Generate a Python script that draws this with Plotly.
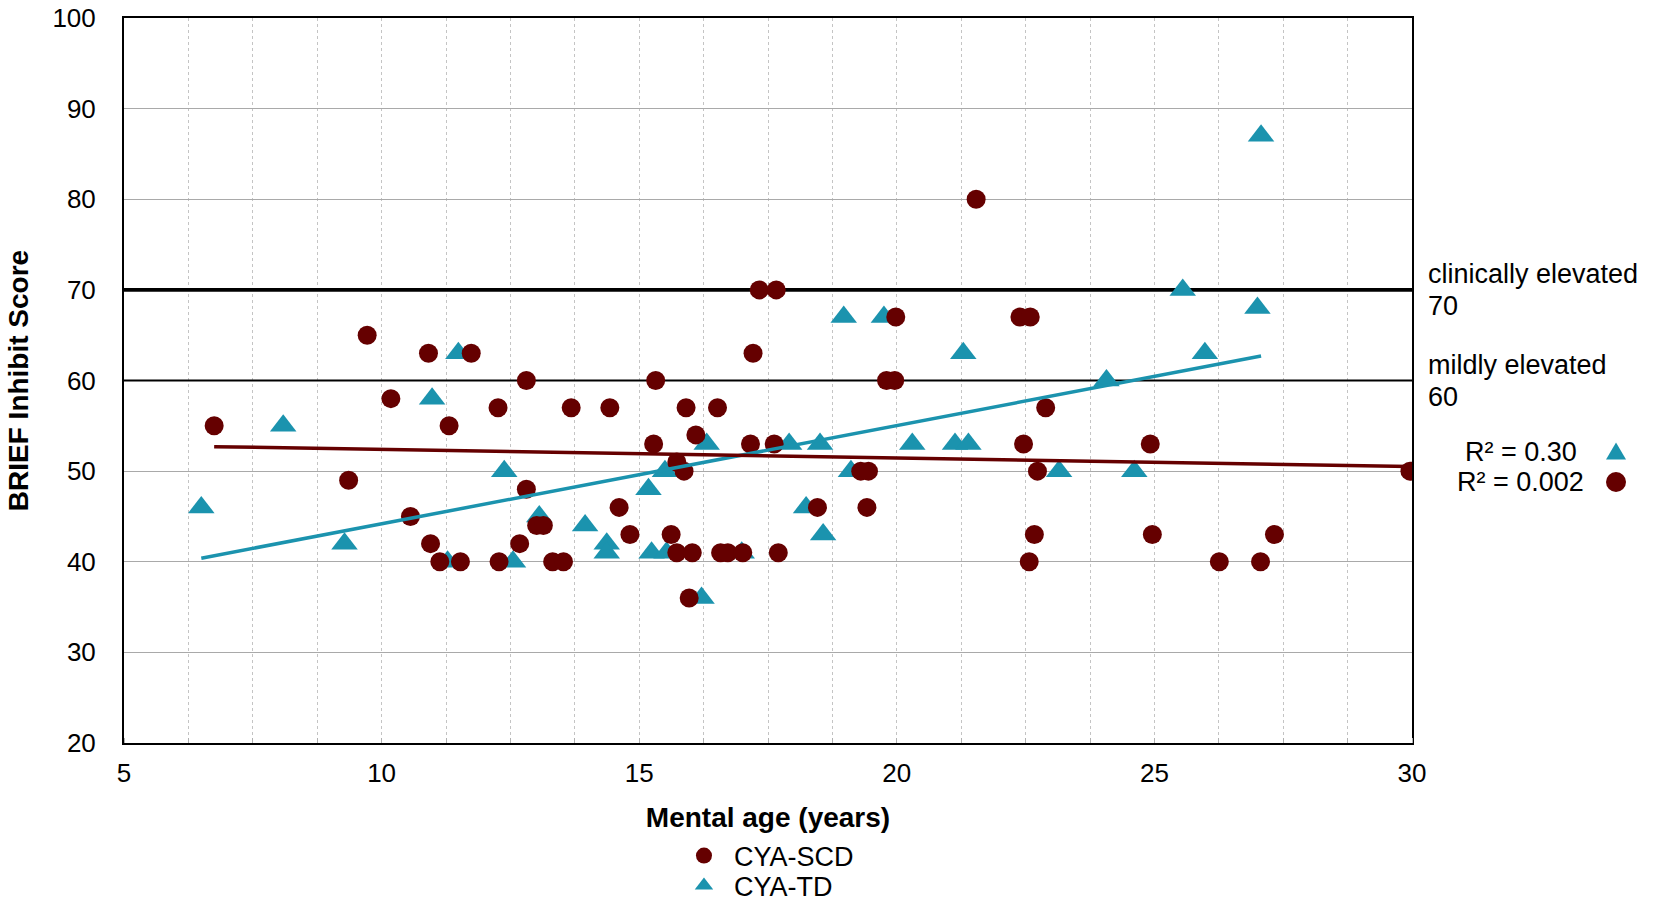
import numpy as np
import plotly.graph_objects as go

# ---- data ----
td_x = [6.50, 8.09, 9.28, 10.98, 11.28, 11.49, 12.38, 12.55, 13.06, 13.95,
        14.37, 14.37, 15.18, 15.24, 15.50, 15.53, 16.21, 16.31, 16.99, 17.91,
        18.24, 18.51, 18.57, 18.97, 19.11, 19.75, 20.30, 21.13, 21.29, 21.39,
        23.15, 24.07, 24.61, 25.55, 25.98, 27.00, 27.07]
td_y = [46, 55, 42, 58, 40, 63, 50, 40, 45, 44,
        42, 41, 48, 41, 50, 41, 36, 53, 41, 53,
        46, 53, 43, 67, 50, 67, 53, 53, 63, 53,
        50, 60, 50, 70, 63, 68, 87]

scd_x = [6.75, 9.36, 9.72, 10.18, 10.56, 10.91, 10.95, 11.13, 11.31, 11.53,
         11.74, 12.26, 12.28, 12.68, 12.81, 12.81, 13.01, 13.14, 13.32, 13.53,
         13.68, 14.43, 14.61, 14.82, 15.28, 15.32, 15.62, 15.73, 15.73, 15.87,
         15.91, 15.97, 16.03, 16.10, 16.52, 16.58, 16.72, 17.01, 17.16, 17.21,
         17.33, 17.62, 17.66, 17.70, 18.46, 19.30, 19.42, 19.45, 19.80, 19.96,
         19.98, 21.54, 22.39, 22.46, 22.57, 22.59, 22.67, 22.73, 22.89, 24.92,
         24.96, 26.26, 27.06, 27.33, 29.96]
scd_y = [55, 49, 65, 58, 45, 63, 42, 40, 55, 40,
         63, 57, 40, 42, 60, 48, 44, 44, 40, 40,
         57, 57, 46, 43, 53, 60, 43, 51, 41, 50,
         57, 36, 41, 54, 57, 41, 41, 41, 53, 63,
         70, 53, 70, 41, 46, 50, 46, 50, 60, 60,
         67, 80, 67, 53, 40, 67, 43, 50, 57, 53,
         43, 40, 40, 43, 50]

# linear trendline coefficients (slope, intercept)
td_trend = [1.084, 33.35]
scd_trend = [-0.0948, 53.34]

series_names = ["CYA-SCD", "CYA-TD"]
r2_labels = ["R² = 0.30", "R² = 0.002"]
thresholds = [70, 60]
threshold_widths = [3.8, 2.0]
threshold_labels = ["clinically elevated", "mildly elevated"]
x_range = [5, 30]
y_range = [20, 100]
x_ticks = [5, 10, 15, 20, 25, 30]
y_ticks = [20, 30, 40, 50, 60, 70, 80, 90, 100]

TEAL = "#1b93ae"
DRED = "#650000"
FONT = "Liberation Sans, Arial, sans-serif"
FS_TICK = 26
FS_TITLE = 28
FS_TEXT = 27


def trend_line(xs, coef):
    xs = np.asarray(xs, float)
    xe = np.array([xs.min(), xs.max()])
    return xe, coef[0] * xe + coef[1]


fig = go.Figure()

# threshold reference lines (drawn first, beneath the markers, above grid)
for val, w in zip(thresholds, threshold_widths):
    fig.add_trace(go.Scatter(x=x_range, y=[val, val], mode="lines",
                             showlegend=False, hoverinfo="skip",
                             line=dict(color="black", width=w)))

fig.add_trace(go.Scatter(
    x=td_x, y=td_y, mode="markers", name=series_names[1], legend="legend2",
    marker=dict(symbol="triangle-up", size=23, color=TEAL, line=dict(width=0)),
))
fig.add_trace(go.Scatter(
    x=scd_x, y=scd_y, mode="markers", name=series_names[0], legend="legend",
    marker=dict(symbol="circle", size=19, color=DRED, line=dict(width=0)),
))

tx, ty = trend_line(td_x, td_trend)
fig.add_trace(go.Scatter(x=tx, y=ty, mode="lines", showlegend=False,
                         line=dict(color=TEAL, width=3.5), hoverinfo="skip"))
sx, sy = trend_line(scd_x, scd_trend)
fig.add_trace(go.Scatter(x=sx, y=sy, mode="lines", showlegend=False,
                         line=dict(color=DRED, width=3.5), hoverinfo="skip"))

ann_font = dict(family=FONT, size=FS_TEXT, color="black")
for val, lab in zip(thresholds, threshold_labels):
    fig.add_annotation(xref="paper", yref="y", x=1.011, y=val, text=lab,
                       showarrow=False, xanchor="left", yanchor="middle",
                       yshift=16, font=ann_font)
    fig.add_annotation(xref="paper", yref="y", x=1.011, y=val, text=str(val),
                       showarrow=False, xanchor="left", yanchor="middle",
                       yshift=-16, font=ann_font)

# R² key
r2_y = [0.402, 0.360]
for lab, yy in zip(r2_labels, r2_y):
    fig.add_annotation(xref="paper", yref="paper", x=1.0846, y=yy, text=lab,
                       showarrow=False, xanchor="center", yanchor="middle",
                       font=ann_font)
# key symbols (layout decorations)
fig.add_shape(type="path", xref="paper", yref="paper",
              xsizemode="pixel", ysizemode="pixel",
              xanchor=1.1584, yanchor=r2_y[0],
              path="M -10,-8 L 10,-8 L 0,9 Z",
              fillcolor=TEAL, line=dict(width=0))
fig.add_shape(type="circle", xref="paper", yref="paper",
              xsizemode="pixel", ysizemode="pixel",
              xanchor=1.1584, yanchor=r2_y[1],
              x0=-10, x1=10, y0=-10, y1=10,
              fillcolor=DRED, line=dict(width=0))

fig.update_xaxes(
    range=x_range, tickvals=x_ticks, ticktext=[str(v) for v in x_ticks],
    showline=True, linecolor="black", linewidth=2, mirror=True,
    showgrid=True, gridcolor="#c4c4c4", griddash="dot", gridwidth=1,
    zeroline=False, ticks="", ticklabelstandoff=6,
    tickfont=dict(family=FONT, size=FS_TICK, color="black"),
    minor=dict(dtick=1.25, tick0=5, showgrid=True, gridcolor="#c4c4c4",
               griddash="dot", gridwidth=1, ticks="inside", ticklen=5,
               tickcolor="#b0b0b0"),
    title=dict(text="<b>Mental age (years)</b>", standoff=20,
               font=dict(family=FONT, size=FS_TITLE, color="black")),
)
fig.update_yaxes(
    range=y_range, tickvals=y_ticks, ticktext=[str(v) for v in y_ticks],
    showline=True, linecolor="black", linewidth=2, mirror=True,
    showgrid=True, gridcolor="#a9a9a9", gridwidth=1.2, zeroline=False,
    ticks="", ticklabelstandoff=21,
    tickfont=dict(family=FONT, size=FS_TICK, color="black"),
    title=dict(text="<b>BRIEF Inhibit Score</b>", standoff=16,
               font=dict(family=FONT, size=FS_TITLE, color="black")),
)

leg_common = dict(xanchor="left", yanchor="middle", itemwidth=50,
                  bgcolor="rgba(0,0,0,0)",
                  font=dict(family=FONT, size=FS_TEXT, color="black"))
fig.update_layout(
    width=1654, height=904,
    margin=dict(l=124, r=242, t=18, b=161, autoexpand=False),
    paper_bgcolor="white", plot_bgcolor="white",
    font=dict(family=FONT, size=FS_TICK, color="black"),
    legend=dict(x=0.427, y=-0.1559, **leg_common),
    legend2=dict(x=0.427, y=-0.1972, **leg_common),
    showlegend=True,
)

# remove the browser's default 8px page margin so the figure fills the window
fig.write_html("out.html",
               config={"displayModeBar": False},
               post_script="document.body.style.margin='0';"
                           "document.body.style.overflow='hidden';")
